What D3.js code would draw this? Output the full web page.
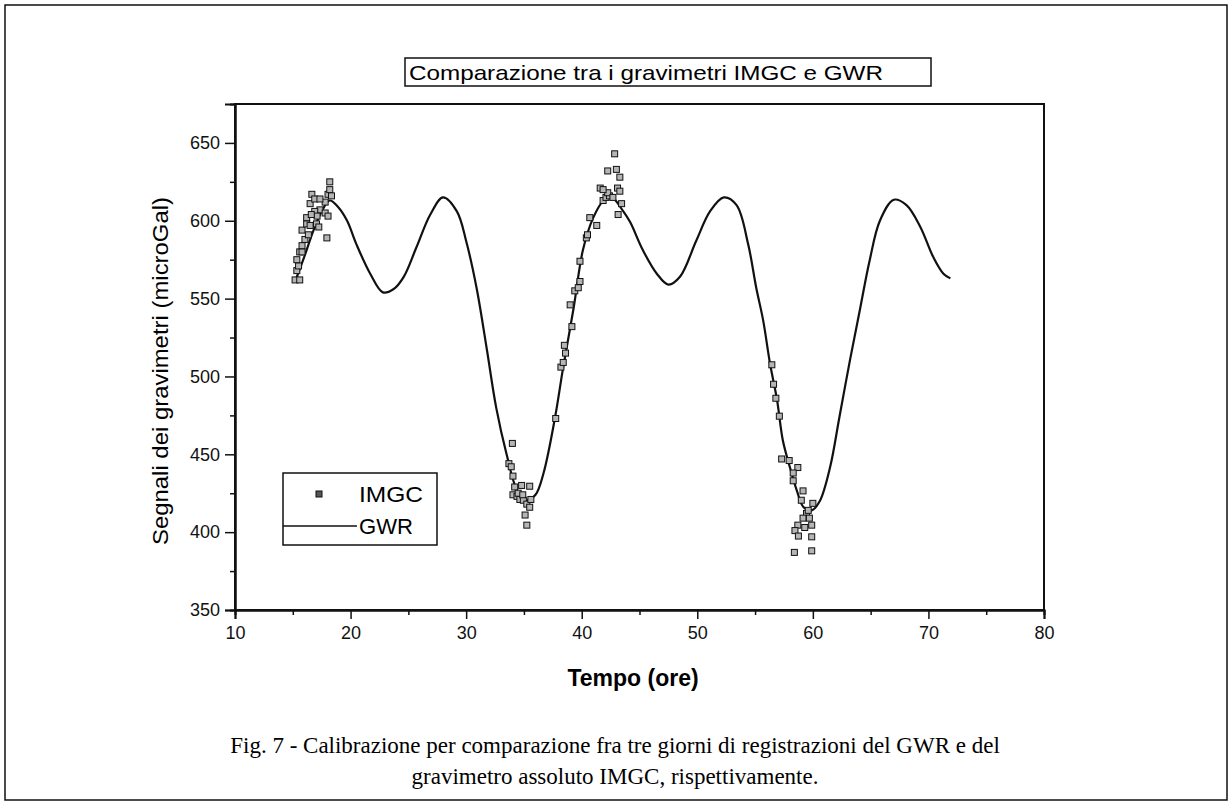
<!DOCTYPE html>
<html>
<head>
<meta charset="utf-8">
<script src="https://cdn.jsdelivr.net/npm/d3@7"></script>
<style>
  body { margin: 0; background: #fff; }
  svg { display: block; }
  .tick text { font-family: Arial, "Liberation Sans", sans-serif; font-size: 18px; fill: #111; }
</style>
</head>
<body>
<div id="chart"></div>
<script>
// GWR record (hours, microGal)
var gwrTime = [15.3, 16.0, 16.8, 17.5, 18.2, 18.9, 19.7, 20.5, 21.7, 22.8, 23.7, 24.6, 25.7, 26.9, 28.0,
    29.2, 30.0, 30.9, 31.8, 32.6, 33.5, 34.4, 35.2, 36.0, 36.7, 37.7, 38.4, 39.3, 40.1, 41.0, 41.9, 42.6,
    43.6, 44.2, 45.3, 46.5, 47.5, 48.5, 49.9, 51.1, 52.3, 53.4, 54.4, 55.1, 55.7, 56.3, 56.9, 57.4, 58.0,
    58.6, 59.2, 59.9, 60.6, 61.5, 62.3, 63.2, 64.1, 64.9, 65.8, 67.0, 68.1, 69.3, 70.4, 71.3, 71.9];
var gwrValue = [563, 577, 594, 606, 613, 609, 600, 585, 566, 554, 556, 564, 583, 604, 615,
    606, 587, 557, 517, 480, 450, 427, 420.5, 424, 438, 474, 506, 544, 581, 602, 613, 615,
    606, 599, 581, 566, 559, 564, 587, 606, 615, 610, 585, 557, 536, 508, 485, 459, 442,
    427, 416, 414, 420, 442, 474, 510, 544, 574, 600, 613.5, 610, 596, 577, 566, 563];

// IMGC absolute gravimeter drops
var imgcTime = [15.2, 15.6, 15.35, 15.5, 15.35, 15.6, 15.8, 15.8, 16.05, 15.8, 16.35, 16.2, 16.5, 17.05, 17.25,
    16.2, 16.5, 16.65, 16.9, 17.35, 17.8, 18.05, 17.95, 17.8, 18.05, 18.2, 18.2, 18.35, 17.35, 16.9, 17.1, 16.6,
    33.7, 33.9, 34.0, 34.05, 34.2, 34.8, 35.5, 34.05, 34.4, 34.65, 34.95, 35.25, 35.5, 35.1, 35.25, 34.5, 35.6, 34.9,
    37.75, 38.2, 38.4, 38.6, 38.5, 39.15, 39.0, 39.4, 39.7, 39.85, 39.85, 40.4, 40.5, 40.7, 41.3, 41.6, 41.85,
    42.1, 42.4, 42.25, 42.25, 42.85, 43.0, 43.3, 43.1, 43.3, 43.45, 43.15, 42.7, 41.85,
    56.45, 56.6, 56.8, 57.1, 57.3, 57.95, 58.7, 58.3, 58.3, 59.15, 59.0, 60.0, 59.45, 59.15, 59.9, 59.3,
    58.7, 58.45, 58.75, 59.9, 58.4, 59.9, 59.7, 59.6];
var imgcValue = [562, 562, 568, 571, 575, 580, 580, 584, 588, 594, 591, 598, 597, 598, 596,
    602, 611, 617, 614, 607, 605, 603, 589, 612, 617, 620, 625, 616, 614, 606, 603, 604,
    444, 442, 457, 436, 429, 430, 429.5, 424, 423, 421, 420.5, 418, 416, 411, 404.5, 425, 421, 424,
    473, 506, 509, 515, 520, 532, 546, 555, 557, 561, 574, 589, 591, 602, 597, 621, 613,
    615, 616, 618, 632, 643, 633, 628, 621, 619, 611, 604, 615, 620,
    507.5, 495, 486, 474.5, 447, 446, 441.5, 438, 433, 426.5, 420.5, 418.5, 412, 409, 404.5, 403,
    404.5, 401, 397.5, 397, 387, 388, 409, 414];

var xTicks = [10, 20, 30, 40, 50, 60, 70, 80];
var xMinor = [15, 25, 35, 45, 55, 65, 75];
var yTicks = [350, 400, 450, 500, 550, 600, 650];
var yMinor = [375, 425, 475, 525, 575, 625];

var chartTitle = 'Comparazione tra i gravimetri IMGC e GWR';
var xTitle = 'Tempo (ore)';
var yTitle = 'Segnali dei gravimetri (microGal)';
var caption = ['Fig. 7 - Calibrazione per comparazione fra tre giorni di registrazioni del GWR e del',
    'gravimetro assoluto IMGC, rispettivamente.'];

(function () {
    var width = 1232, height = 808;
    var mLeft = 235, mRight = 1044, mTop = 104, mBottom = 610;
    var sans = 'Arial, "Liberation Sans", sans-serif';

    var svg = d3.select('#chart').append('svg').attr('width', width).attr('height', height);

    // page frame
    svg.append('rect').attr('x', 5).attr('y', 5).attr('width', 1222).attr('height', 795)
        .attr('fill', 'none').attr('stroke', '#111').attr('stroke-width', 1.5);

    var x = d3.scaleLinear().domain([10, 80]).range([mLeft, mRight]);
    var y = d3.scaleLinear().domain([350, 675]).range([mBottom, mTop]);

    // axes
    svg.append('g').attr('transform', 'translate(0,' + mBottom + ')')
        .call(d3.axisBottom(x).tickValues(xTicks).tickSize(9).tickPadding(7).tickFormat(d3.format('d')));
    svg.append('g').attr('transform', 'translate(0,' + mBottom + ')')
        .call(d3.axisBottom(x).tickValues(xMinor).tickSize(5).tickFormat(''));

    svg.append('g').attr('transform', 'translate(' + mLeft + ',0)')
        .call(d3.axisLeft(y).tickValues(yTicks).tickSize(10).tickPadding(5).tickFormat(d3.format('d')));
    svg.append('g').attr('transform', 'translate(' + mLeft + ',0)')
        .call(d3.axisLeft(y).tickValues(yMinor).tickSize(5).tickFormat(''));

    svg.selectAll('.domain').attr('stroke', '#111').attr('stroke-width', 2);
    svg.selectAll('.tick line').attr('stroke', '#111').attr('stroke-width', 1.5);

    // top and right border of the plot
    svg.append('rect').attr('x', mLeft).attr('y', mTop).attr('width', mRight - mLeft).attr('height', mBottom - mTop)
        .attr('fill', 'none').attr('stroke', '#111').attr('stroke-width', 2);

    // GWR line
    var line = d3.line()
        .x(function (d) { return x(d[0]); })
        .y(function (d) { return y(d[1]); })
        .curve(d3.curveCatmullRom.alpha(0.5));
    svg.append('path')
        .datum(gwrTime.map(function (t, i) { return [t, gwrValue[i]]; }))
        .attr('d', line)
        .attr('fill', 'none').attr('stroke', '#111').attr('stroke-width', 2.2);

    // IMGC squares
    svg.append('g').selectAll('rect')
        .data(imgcTime.map(function (t, i) { return [t, imgcValue[i]]; }))
        .enter().append('rect')
        .attr('x', function (d) { return x(d[0]) - 3; })
        .attr('y', function (d) { return y(d[1]) - 3; })
        .attr('width', 6).attr('height', 6)
        .attr('fill', '#b5b5b5').attr('stroke', '#111').attr('stroke-width', 1);

    // legend
    var lg = svg.append('g').attr('transform', 'translate(283,473)');
    lg.append('rect').attr('width', 154).attr('height', 72)
        .attr('fill', '#fff').attr('stroke', '#111').attr('stroke-width', 1.5);
    lg.append('rect').attr('x', 33).attr('y', 18).attr('width', 6).attr('height', 6)
        .attr('fill', '#555').attr('stroke', '#111');
    lg.append('line').attr('x1', 0).attr('x2', 74).attr('y1', 53).attr('y2', 53)
        .attr('stroke', '#111').attr('stroke-width', 1.5);
    lg.append('text').attr('x', 76).attr('y', 29).text('IMGC')
        .attr('textLength', 64).attr('lengthAdjust', 'spacingAndGlyphs')
        .style('font-family', sans).style('font-size', '22px');
    lg.append('text').attr('x', 76).attr('y', 61).text('GWR')
        .attr('textLength', 54).attr('lengthAdjust', 'spacingAndGlyphs')
        .style('font-family', sans).style('font-size', '22px');

    // title box
    svg.append('rect').attr('x', 405).attr('y', 58).attr('width', 526).attr('height', 28)
        .attr('fill', 'none').attr('stroke', '#111').attr('stroke-width', 1.5);
    svg.append('text').attr('x', 409).attr('y', 80).text(chartTitle)
        .attr('textLength', 474).attr('lengthAdjust', 'spacingAndGlyphs')
        .style('font-family', sans).style('font-size', '21px');

    // axis titles
    svg.append('text').attr('x', 633).attr('y', 686).attr('text-anchor', 'middle')
        .text(xTitle).style('font-family', sans)
        .style('font-size', '23px').style('font-weight', 'bold');
    svg.append('text').attr('transform', 'translate(168,371) rotate(-90)').attr('text-anchor', 'middle')
        .text(yTitle).attr('textLength', 348).attr('lengthAdjust', 'spacingAndGlyphs')
        .style('font-family', sans).style('font-size', '22px');

    // caption
    svg.selectAll('.caption').data(caption).enter().append('text')
        .attr('class', 'caption')
        .attr('x', 615).attr('y', function (d, i) { return 753 + i * 31; })
        .attr('text-anchor', 'middle')
        .text(function (d) { return d; })
        .style('font-family', '"Times New Roman", "Liberation Serif", serif').style('font-size', '23px');
})();
</script>
</body>
</html>
